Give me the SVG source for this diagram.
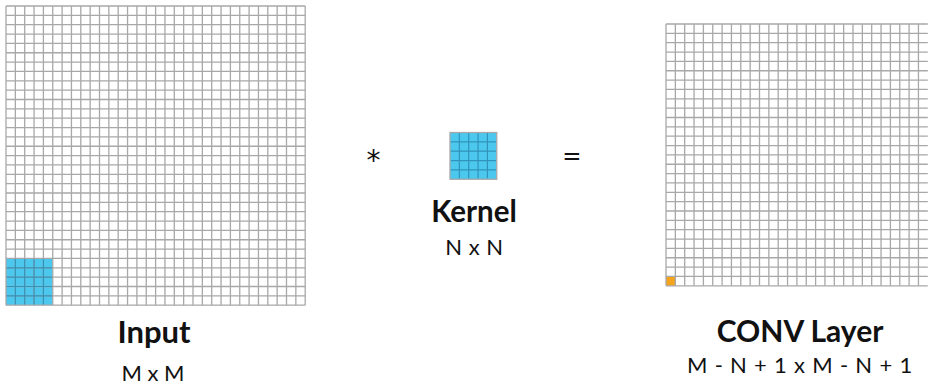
<svg xmlns="http://www.w3.org/2000/svg" width="929" height="385" viewBox="0 0 929 385">
  <style>
    .grid { fill: none; stroke: #a8a8a8; stroke-width: 1.3; }
    .kgrid { fill: none; stroke: #2f93bb; stroke-width: 1.2; }
    .blue { fill: #4cc8ef; }
    .orange { fill: #f5a41d; }
    .title { font-family: Lato, "Open Sans", sans-serif; font-weight: 700; fill: #111; text-anchor: middle; }
    .sub { font-family: Lato, "Open Sans", sans-serif; font-weight: 400; fill: #111; text-anchor: middle; }
    .op { font-family: "DejaVu Sans", sans-serif; fill: #111; text-anchor: middle; }
  </style>

  <!-- Input matrix: 32 x 32 cells, 5 x 5 window highlighted at bottom-left -->
  <g id="input">
    <rect class="blue" x="6" y="258.45" width="46.75" height="46.75"/>
    <path class="grid" d="M6 6v299.2m9.35-299.2v299.2m9.35-299.2v299.2m9.35-299.2v299.2m9.35-299.2v299.2m9.35-299.2v299.2m9.35-299.2v299.2m9.35-299.2v299.2m9.35-299.2v299.2m9.35-299.2v299.2m9.35-299.2v299.2m9.35-299.2v299.2m9.35-299.2v299.2m9.35-299.2v299.2m9.35-299.2v299.2m9.35-299.2v299.2m9.35-299.2v299.2m9.35-299.2v299.2m9.35-299.2v299.2m9.35-299.2v299.2m9.35-299.2v299.2m9.35-299.2v299.2m9.35-299.2v299.2m9.35-299.2v299.2m9.35-299.2v299.2m9.35-299.2v299.2m9.35-299.2v299.2m9.35-299.2v299.2m9.35-299.2v299.2m9.35-299.2v299.2m9.35-299.2v299.2m9.35-299.2v299.2m9.35-299.2v299.2"/>
    <path class="grid" d="M6 6h299.2m-299.2 9.35h299.2m-299.2 9.35h299.2m-299.2 9.35h299.2m-299.2 9.35h299.2m-299.2 9.35h299.2m-299.2 9.35h299.2m-299.2 9.35h299.2m-299.2 9.35h299.2m-299.2 9.35h299.2m-299.2 9.35h299.2m-299.2 9.35h299.2m-299.2 9.35h299.2m-299.2 9.35h299.2m-299.2 9.35h299.2m-299.2 9.35h299.2m-299.2 9.35h299.2m-299.2 9.35h299.2m-299.2 9.35h299.2m-299.2 9.35h299.2m-299.2 9.35h299.2m-299.2 9.35h299.2m-299.2 9.35h299.2m-299.2 9.35h299.2m-299.2 9.35h299.2m-299.2 9.35h299.2m-299.2 9.35h299.2m-299.2 9.35h299.2m-299.2 9.35h299.2m-299.2 9.35h299.2m-299.2 9.35h299.2m-299.2 9.35h299.2m-299.2 9.35h299.2"/>
    <path class="kgrid" d="M15.35 259.1v45.5m9.35-45.5v45.5m9.35-45.5v45.5m9.35-45.5v45.5M6.6 267.8h45.5m-45.5 9.35h45.5m-45.5 9.35h45.5m-45.5 9.35h45.5"/>
    <text class="title" x="154" y="343" font-size="31">Input</text>
    <text class="sub" x="153" y="381" font-size="22">M x M</text>
  </g>

  <!-- Operator signs -->
  <g id="operators">
    <text class="op" x="373.5" y="170" font-size="28">*</text>
    <text class="op" x="572" y="164" font-size="23">=</text>
  </g>

  <!-- Kernel: 5 x 5 -->
  <g id="kernel">
    <rect class="blue" x="450" y="132.5" width="46.75" height="46.75"/>
    <path class="kgrid" d="M459.35 133.1v45.5m9.35-45.5v45.5m9.35-45.5v45.5m9.35-45.5v45.5M450.6 141.85h45.5m-45.5 9.35h45.5m-45.5 9.35h45.5m-45.5 9.35h45.5"/>
    <rect class="grid" x="450" y="132.5" width="46.75" height="46.75"/>
    <text class="title" x="474" y="222" font-size="29.5">Kernel</text>
    <text class="sub" x="474.5" y="255" font-size="22" letter-spacing="0.5">N x N</text>
  </g>

  <!-- Output feature map: 28 x 28 cells, first output cell highlighted -->
  <g id="output">
    <rect class="orange" x="666" y="276.45" width="9.35" height="9.35"/>
    <path class="grid" d="M666 24v261.8m9.35-261.8v261.8m9.35-261.8v261.8m9.35-261.8v261.8m9.35-261.8v261.8m9.35-261.8v261.8m9.35-261.8v261.8m9.35-261.8v261.8m9.35-261.8v261.8m9.35-261.8v261.8m9.35-261.8v261.8m9.35-261.8v261.8m9.35-261.8v261.8m9.35-261.8v261.8m9.35-261.8v261.8m9.35-261.8v261.8m9.35-261.8v261.8m9.35-261.8v261.8m9.35-261.8v261.8m9.35-261.8v261.8m9.35-261.8v261.8m9.35-261.8v261.8m9.35-261.8v261.8m9.35-261.8v261.8m9.35-261.8v261.8m9.35-261.8v261.8m9.35-261.8v261.8m9.35-261.8v261.8"/>
    <path class="grid" d="M666 24h261.8m-261.8 9.35h261.8m-261.8 9.35h261.8m-261.8 9.35h261.8m-261.8 9.35h261.8m-261.8 9.35h261.8m-261.8 9.35h261.8m-261.8 9.35h261.8m-261.8 9.35h261.8m-261.8 9.35h261.8m-261.8 9.35h261.8m-261.8 9.35h261.8m-261.8 9.35h261.8m-261.8 9.35h261.8m-261.8 9.35h261.8m-261.8 9.35h261.8m-261.8 9.35h261.8m-261.8 9.35h261.8m-261.8 9.35h261.8m-261.8 9.35h261.8m-261.8 9.35h261.8m-261.8 9.35h261.8m-261.8 9.35h261.8m-261.8 9.35h261.8m-261.8 9.35h261.8m-261.8 9.35h261.8m-261.8 9.35h261.8m-261.8 9.35h261.8m-261.8 9.35h261.8"/>
    <text class="title" x="800" y="342" font-size="30">CONV Layer</text>
    <text class="sub" x="800" y="373" font-size="22" letter-spacing="0.8">M - N + 1 x M - N + 1</text>
  </g>
</svg>
